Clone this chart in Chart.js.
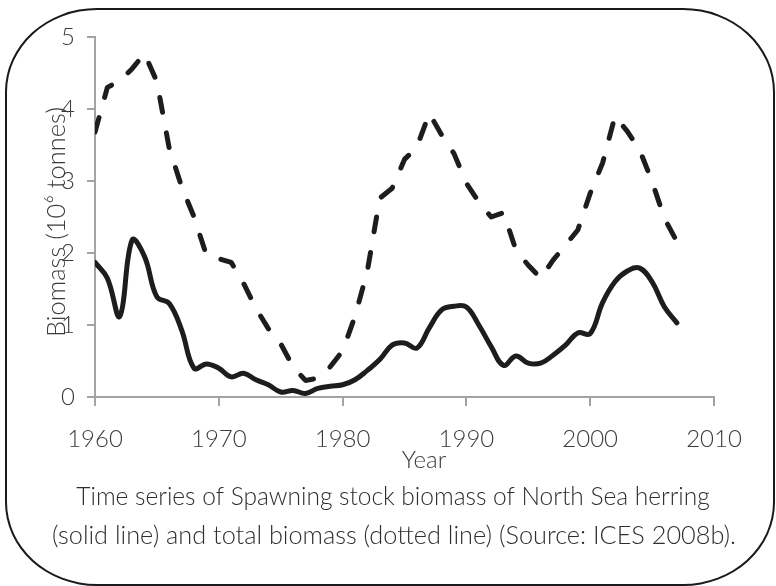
<!DOCTYPE html>
<html>
<head>
<meta charset="utf-8">
<script src="https://cdn.jsdelivr.net/npm/chart.js@4.4.1/dist/chart.umd.min.js"></script>
<style>
  html, body { margin: 0; padding: 0; background: #ffffff; }
  #wrap { position: relative; width: 776px; height: 586px; overflow: hidden; }
  #frame {
    position: absolute; left: 5px; top: 8px; width: 766px; height: 574px;
    border: 2px solid #1a1a1a; border-radius: 92px / 84px; pointer-events: none;
  }
  canvas { position: absolute; left: 0; top: 0; }
</style>
</head>
<body>
<div id="wrap">
  <canvas id="chart" width="776" height="586"></canvas>
  <div id="frame"></div>
</div>
<script>
// North Sea herring, 10^6 tonnes
const years = [
  1960,1961,1962,1963,1964,1965,1966,1967,1968,1969,
  1970,1971,1972,1973,1974,1975,1976,1977,1978,1979,
  1980,1981,1982,1983,1984,1985,1986,1987,1988,1989,
  1990,1991,1992,1993,1994,1995,1996,1997,1998,1999,
  2000,2001,2002,2003,2004,2005,2006,2007
];
// spawning stock biomass (solid line)
const ssb = [
  1.87,1.65,1.12,2.18,1.95,1.39,1.30,0.93,0.40,0.46,
  0.40,0.28,0.33,0.24,0.17,0.07,0.09,0.05,0.12,0.15,
  0.17,0.24,0.37,0.52,0.72,0.75,0.68,0.96,1.21,1.26,
  1.25,1.00,0.70,0.44,0.57,0.47,0.47,0.58,0.72,0.89,
  0.88,1.31,1.60,1.75,1.79,1.60,1.25,1.03
];
// total biomass (dashed line)
const totalBiomass = [
  3.68,4.30,4.39,4.56,4.77,4.38,3.45,2.92,2.50,1.97,
  1.92,1.87,1.58,1.23,0.95,0.74,0.42,0.23,0.26,0.42,
  0.64,1.12,1.75,2.76,2.90,3.30,3.47,3.94,3.64,3.38,
  2.97,2.71,2.50,2.56,2.04,1.83,1.65,1.90,2.11,2.32,
  2.83,3.25,3.90,3.69,3.43,2.99,2.48,2.16
];
const xTicks = [1960, 1970, 1980, 1990, 2000, 2010];
const yTicks = [0, 1, 2, 3, 4, 5];
const yTitle = 'Biomass (10\u2076 tonnes)';
const xTitle = 'Year';
const caption = [
  'Time series of Spawning stock biomass of North Sea herring',
  '(solid line) and total biomass (dotted line) (Source: ICES 2008b).'
];

const FONT = '"Lato", "Open Sans", "Liberation Sans", sans-serif';
const AXIS = '#a3a3a3';
const INK = '#1e1c1d';
const TEXT = '#3b3b3b';

const toPoints = vals => years.map((y, i) => ({ x: y, y: vals[i] }));

const annotations = {
  id: 'annotations',
  afterDraw(chart) {
    const ctx = chart.ctx;
    ctx.save();
    ctx.fillStyle = TEXT;
    ctx.textAlign = 'center';
    ctx.textBaseline = 'middle';
    // y axis title, rotated
    ctx.font = '300 25.5px ' + FONT;
    ctx.save();
    ctx.translate(57, 222);
    ctx.rotate(-Math.PI / 2);
    ctx.fillText(yTitle, 0, 0);
    ctx.restore();
    // x axis title
    ctx.font = '300 24px ' + FONT;
    ctx.fillText(xTitle, 424, 460);
    // caption
    ctx.fillStyle = '#2e2e2e';
    ctx.font = '300 24.5px ' + FONT;
    ctx.fillText(caption[0], 393, 497);
    ctx.font = '300 25.3px ' + FONT;
    ctx.fillText(caption[1], 394, 536);
    ctx.restore();
  }
};

new Chart(document.getElementById('chart'), {
  type: 'line',
  data: {
    datasets: [
      {
        label: 'Spawning stock biomass',
        data: toPoints(ssb),
        borderColor: INK,
        borderWidth: 5,
        tension: 0.4,
        pointRadius: 0,
        borderCapStyle: 'round',
        borderJoinStyle: 'round',
        fill: false
      },
      {
        label: 'Total biomass',
        data: toPoints(totalBiomass),
        borderColor: INK,
        borderWidth: 5,
        borderDash: [15, 21],
        tension: 0,
        pointRadius: 0,
        borderCapStyle: 'round',
        borderJoinStyle: 'round',
        fill: false
      }
    ]
  },
  options: {
    responsive: false,
    animation: false,
    events: [],
    layout: { padding: { top: 37, right: 62, left: 0, bottom: 0 } },
    plugins: { legend: { display: false }, tooltip: { enabled: false }, title: { display: false } },
    scales: {
      x: {
        type: 'linear',
        min: xTicks[0],
        max: xTicks[xTicks.length - 1],
        afterBuildTicks: s => { s.ticks = xTicks.map(v => ({ value: v })); },
        afterFit: s => { s.height = 189; },
        ticks: {
          callback: v => String(v),
          color: TEXT,
          font: { family: FONT, size: 24, weight: 300 },
          padding: 19,
          maxRotation: 0,
          autoSkip: false
        },
        grid: { drawOnChartArea: false, color: AXIS, tickLength: 9, lineWidth: 2 },
        border: { color: AXIS, width: 2 }
      },
      y: {
        min: yTicks[0],
        max: yTicks[yTicks.length - 1],
        afterBuildTicks: s => { s.ticks = yTicks.map(v => ({ value: v })); },
        afterFit: s => { s.width = 95; },
        ticks: {
          callback: v => String(v),
          color: TEXT,
          font: { family: FONT, size: 24, weight: 300 },
          padding: 12
        },
        grid: { drawOnChartArea: false, color: AXIS, tickLength: 8, lineWidth: 2 },
        border: { color: AXIS, width: 2 }
      }
    }
  },
  plugins: [annotations]
});
</script>
</body>
</html>
